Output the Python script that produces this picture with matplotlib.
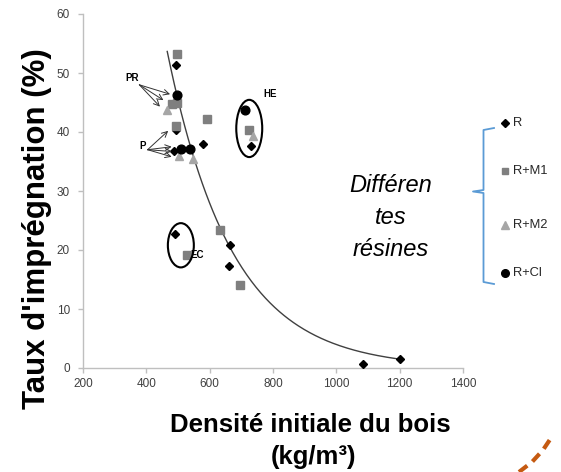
import numpy as np
import matplotlib
matplotlib.use("Agg")
import matplotlib.pyplot as plt
from matplotlib.lines import Line2D
from matplotlib.patches import Ellipse

plt.rcParams['font.family'] = ['Liberation Sans', 'DejaVu Sans']

# Data (density kg/m3, impregnation %)
r_x = [494, 494, 488, 580, 730, 490, 664, 661, 1085, 1200]
r_y = [51.3, 40.3, 36.7, 38.0, 37.7, 22.7, 20.8, 17.3, 0.7, 1.5]

m1_x = [497, 480, 498, 592, 494, 724, 529, 633, 695]
m1_y = [53.3, 44.7, 44.9, 42.2, 41.1, 40.3, 19.2, 23.4, 14.1]

m2_x = [466, 504, 548, 738]
m2_y = [43.7, 36.0, 35.4, 39.3]

cl_x = [496, 508, 537, 710]
cl_y = [46.3, 37.2, 37.1, 43.8]

# exponential trend line y = a * exp(-b x)
trend_a = 519.0
trend_b = 0.00487
trend_range = (466, 1200)

x_ticks = [200, 400, 600, 800, 1000, 1200, 1400]
y_ticks = [0, 10, 20, 30, 40, 50, 60]

W, H = 561, 472


def fx(px):
    return px / W


def fy(py):
    return 1 - py / H


fig = plt.figure(figsize=(W / 100, H / 100), dpi=100)
ax = fig.add_axes([fx(83), fy(368), 380 / W, 354 / H])

# trend line
tx = np.linspace(trend_range[0], trend_range[1], 200)
ax.plot(tx, trend_a * np.exp(-trend_b * tx), color='#404040', lw=1.0, zorder=2)

ax.plot(r_x, r_y, 'D', color='black', ms=4.5, zorder=3, linestyle='none')
ax.plot(m1_x, m1_y, 's', color='#7f7f7f', ms=5.5, zorder=4, linestyle='none')
ax.plot(m2_x, m2_y, '^', color='#a6a6a6', ms=6, zorder=4, linestyle='none')
ax.plot(cl_x, cl_y, 'o', color='black', ms=6.3, zorder=5, linestyle='none')

# circled groups
ax.add_patch(Ellipse((725, 40.6), 82, 9.7, fill=False, ec='black', lw=1.5, zorder=6))
ax.add_patch(Ellipse((509, 20.8), 82, 7.5, fill=False, ec='black', lw=1.5, zorder=6))

ax.text(790, 46.5, 'HE', fontsize=7, fontweight='bold', ha='center', va='center')
ax.text(560, 19.2, 'EC', fontsize=7, fontweight='bold', ha='center', va='center')
ax.text(354, 49.1, 'PR', fontsize=7, fontweight='bold', ha='center', va='center')
ax.text(388, 37.6, 'P', fontsize=7, fontweight='bold', ha='center', va='center')

arrow = dict(arrowstyle='->', color='#333333', lw=0.7, shrinkA=0, shrinkB=0)
for hx, hy in [(475, 46.4), (454, 45.4), (443, 44.3)]:
    ax.annotate('', xy=(hx, hy), xytext=(378, 48.0), arrowprops=arrow)
for hx, hy in [(469, 40.2), (480, 37.5), (480, 36.7), (480, 35.8)]:
    ax.annotate('', xy=(hx, hy), xytext=(404, 37.0), arrowprops=arrow)

ax.set_xlim(200, 1400)
ax.set_ylim(0, 60)
ax.set_xticks(x_ticks)
ax.set_yticks(y_ticks)
for s in ['top', 'right']:
    ax.spines[s].set_visible(False)
for s in ['left', 'bottom']:
    ax.spines[s].set_color('#bfbfbf')
    ax.spines[s].set_linewidth(1.0)
ax.tick_params(colors='#bfbfbf', labelcolor='#404040', labelsize=8.5, length=3.5, width=1.0)
ax.tick_params(axis='y', pad=6)

# axis titles
fig.text(fx(37.5), fy(229), "Taux d'imprégnation (%)", rotation=90, fontsize=22.5,
         fontweight='bold', ha='center', va='center')
fig.text(fx(310), fy(425), 'Densité initiale du bois', fontsize=18.5,
         fontweight='bold', ha='center', va='center')
fig.text(fx(314), fy(457), '(kg/m³)', fontsize=18.5,
         fontweight='bold', ha='center', va='center')

# side note
for txt, py in [('Différen', 185), ('tes', 218), ('résines', 250)]:
    fig.text(fx(391), fy(py), txt, fontsize=17, style='italic', ha='center', va='center')

# bracket
bx = [fx(494), fx(483.5), fx(483.5), fx(473), fx(483.5), fx(483.5), fx(494)]
by = [fy(128), fy(130), fy(190), fy(191.5), fy(193), fy(282), fy(284)]
fig.add_artist(Line2D(bx, by, transform=fig.transFigure, color='#5b9bd5', lw=1.3))

# legend entries
legend_items = [
    ('R', 'D', 'black', 4, 122.7),
    ('R+M1', 's', '#7f7f7f', 5, 171),
    ('R+M2', '^', '#a6a6a6', 5.5, 225),
    ('R+Cl', 'o', 'black', 5.5, 273),
]
for lab, mk, col, ms, py in legend_items:
    fig.add_artist(Line2D([fx(505)], [fy(py)], transform=fig.transFigure,
                          marker=mk, color=col, ms=ms, linestyle='none'))
    fig.text(fx(513), fy(py), lab, fontsize=9.3, color='#262626', ha='left', va='center')

# orange dashed decoration bottom-right
dx = [fx(519), fx(532), fx(543), fx(553)]
dy = [fy(472), fy(462), fy(450), fy(435)]
fig.add_artist(Line2D(dx, dy, transform=fig.transFigure, color='#c55a11', lw=3,
                      linestyle=(0, (2.5, 1.6))))

fig.savefig('out.png', dpi=100)
